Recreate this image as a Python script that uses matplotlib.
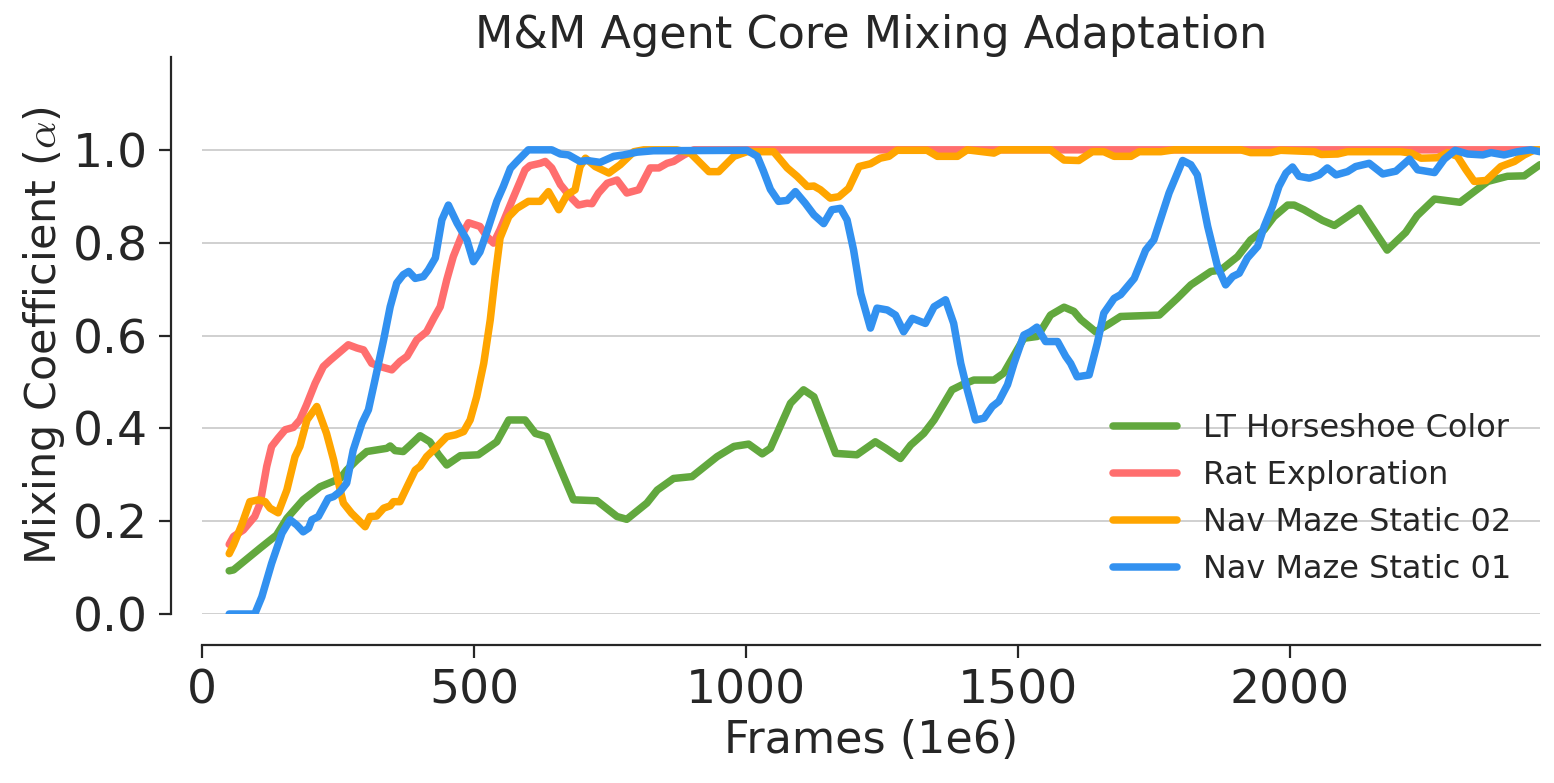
import matplotlib
matplotlib.use('Agg')
import matplotlib.pyplot as plt

plt.rcParams['font.family'] = ['DejaVu Sans']
plt.rcParams['mathtext.fontset'] = 'cm'
plt.rcParams['text.color'] = '#262626'
plt.rcParams['axes.labelcolor'] = '#262626'
plt.rcParams['xtick.color'] = '#262626'
plt.rcParams['ytick.color'] = '#262626'

# ---- data (frames in 1e6, mixing coefficient) ----
green_x = [50, 58, 107, 137, 156, 186, 217, 254, 266, 285, 303, 340, 346, 355, 370, 383, 401, 419, 435, 450,
           475, 508, 542, 564, 594, 613, 634, 683, 726, 763, 781, 818, 837, 867, 901, 947, 978, 1005, 1030, 1045,
           1082, 1106, 1125, 1165, 1204, 1238, 1257, 1284, 1303, 1327, 1346, 1379, 1398, 1419, 1456, 1474, 1511,
           1536, 1560, 1585, 1603, 1616, 1643, 1665, 1689, 1760, 1793, 1818, 1855, 1873, 1904, 1928, 1953, 1971,
           1996, 2008, 2026, 2060, 2082, 2128, 2179, 2213, 2234, 2266, 2313, 2339, 2364, 2400, 2431, 2460]
green_y = [0.093, 0.095, 0.142, 0.170, 0.206, 0.246, 0.274, 0.292, 0.310, 0.332, 0.350, 0.357, 0.362, 0.352,
           0.350, 0.364, 0.384, 0.371, 0.343, 0.321, 0.341, 0.343, 0.371, 0.418, 0.418, 0.389, 0.382, 0.246,
           0.244, 0.210, 0.204, 0.239, 0.267, 0.292, 0.296, 0.339, 0.361, 0.366, 0.345, 0.357, 0.454, 0.483,
           0.468, 0.346, 0.343, 0.371, 0.357, 0.335, 0.364, 0.389, 0.418, 0.483, 0.494, 0.504, 0.504, 0.519,
           0.594, 0.598, 0.644, 0.661, 0.652, 0.634, 0.608, 0.623, 0.641, 0.644, 0.680, 0.709, 0.738, 0.741,
           0.770, 0.806, 0.828, 0.856, 0.881, 0.881, 0.871, 0.848, 0.837, 0.874, 0.784, 0.822, 0.858, 0.894,
           0.887, 0.910, 0.932, 0.943, 0.944, 0.968]

red_x = [50, 58, 76, 97, 107, 119, 128, 140, 153, 168, 180, 192, 208, 223, 236, 254, 269, 285, 297, 312,
         331, 349, 364, 377, 395, 413, 426, 438, 450, 462, 478, 490, 511, 524, 536, 548, 573, 594, 603, 622,
         631, 643, 659, 677, 692, 708, 717, 729, 745, 763, 781, 803, 824, 840, 855, 867, 886, 904, 2460]
red_y = [0.150, 0.167, 0.181, 0.210, 0.239, 0.318, 0.361, 0.379, 0.397, 0.402, 0.418, 0.450, 0.497, 0.533,
         0.547, 0.565, 0.580, 0.573, 0.569, 0.540, 0.532, 0.526, 0.544, 0.555, 0.591, 0.608, 0.637, 0.662,
         0.720, 0.770, 0.817, 0.843, 0.835, 0.813, 0.799, 0.828, 0.899, 0.957, 0.966, 0.971, 0.975, 0.961,
         0.925, 0.899, 0.881, 0.885, 0.884, 0.907, 0.928, 0.935, 0.907, 0.914, 0.961, 0.961, 0.971, 0.975,
         0.989, 1.0, 1.0]

orange_x = [50, 58, 73, 88, 104, 116, 125, 140, 156, 171, 180, 193, 211, 229, 242, 254, 260, 275, 300, 309,
            321, 334, 346, 352, 364, 377, 392, 401, 413, 429, 450, 466, 481, 493, 505, 518, 530, 539, 548, 564,
            579, 600, 622, 637, 656, 671, 686, 695, 705, 723, 748, 769, 794, 812, 873, 898, 932, 950, 978, 1002,
            1051, 1076, 1094, 1113, 1125, 1137, 1155, 1171, 1189, 1208, 1229, 1247, 1263, 1278, 1333, 1352,
            1389, 1407, 1456, 1468, 1560, 1585, 1612, 1637, 1658, 1677, 1708, 1723, 1763, 1787, 1910, 1928,
            1965, 1983, 2045, 2058, 2088, 2106, 2204, 2223, 2241, 2272, 2290, 2308, 2324, 2339, 2361, 2388,
            2413, 2431, 2450, 2460]
orange_y = [0.130, 0.149, 0.192, 0.242, 0.246, 0.242, 0.228, 0.218, 0.267, 0.339, 0.361, 0.418, 0.447,
            0.389, 0.332, 0.267, 0.239, 0.217, 0.188, 0.210, 0.211, 0.228, 0.233, 0.242, 0.242, 0.274, 0.310,
            0.318, 0.339, 0.357, 0.382, 0.386, 0.393, 0.418, 0.468, 0.540, 0.634, 0.727, 0.810, 0.856, 0.874,
            0.889, 0.889, 0.910, 0.871, 0.903, 0.914, 0.964, 0.982, 0.964, 0.950, 0.968, 0.996, 1.0, 1.0, 0.993,
            0.953, 0.953, 0.986, 0.996, 0.996, 0.961, 0.943, 0.921, 0.922, 0.914, 0.896, 0.899, 0.917, 0.964,
            0.970, 0.982, 0.986, 0.999, 0.999, 0.986, 0.986, 1.0, 0.993, 1.0, 1.0, 0.978, 0.977, 0.996, 0.996,
            0.986, 0.986, 0.996, 0.996, 1.0, 1.0, 0.994, 0.994, 0.999, 0.996, 0.990, 0.991, 0.996, 0.996,
            0.993, 0.982, 0.983, 0.994, 0.986, 0.957, 0.932, 0.934, 0.964, 0.975, 0.989, 1.0, 1.0]

blue_x = [50, 97, 110, 128, 147, 162, 174, 186, 196, 202, 214, 232, 242, 254, 266, 278, 294, 306, 318, 334,
          346, 358, 370, 380, 392, 407, 416, 429, 441, 453, 469, 487, 499, 511, 524, 542, 554, 567, 579, 600,
          643, 659, 674, 695, 708, 732, 757, 775, 800, 830, 1002, 1021, 1032, 1045, 1060, 1076, 1091, 1109,
          1125, 1143, 1158, 1174, 1186, 1198, 1211, 1229, 1241, 1260, 1275, 1290, 1306, 1330, 1346, 1367,
          1382, 1395, 1407, 1422, 1438, 1453, 1465, 1481, 1493, 1511, 1523, 1535, 1551, 1573, 1588, 1597,
          1609, 1631, 1646, 1658, 1677, 1689, 1714, 1735, 1750, 1778, 1803, 1818, 1830, 1849, 1867, 1882,
          1895, 1907, 1922, 1941, 1953, 1968, 1980, 1993, 2005, 2017, 2036, 2054, 2069, 2085, 2106, 2121,
          2146, 2171, 2195, 2220, 2235, 2266, 2284, 2304, 2327, 2355, 2370, 2394, 2419, 2443, 2460]
blue_y = [0.0, 0.0, 0.037, 0.109, 0.174, 0.203, 0.192, 0.177, 0.185, 0.203, 0.210, 0.249, 0.253, 0.264,
          0.282, 0.353, 0.411, 0.440, 0.504, 0.591, 0.662, 0.713, 0.731, 0.738, 0.723, 0.727, 0.741, 0.767,
          0.849, 0.881, 0.842, 0.806, 0.759, 0.780, 0.824, 0.889, 0.921, 0.960, 0.975, 1.0, 1.0, 0.991, 0.989,
          0.975, 0.977, 0.973, 0.986, 0.989, 0.995, 0.998, 0.999, 0.986, 0.955, 0.915, 0.889, 0.891, 0.910,
          0.885, 0.860, 0.841, 0.871, 0.874, 0.849, 0.784, 0.691, 0.616, 0.659, 0.655, 0.644, 0.608, 0.637,
          0.626, 0.662, 0.677, 0.626, 0.540, 0.483, 0.418, 0.422, 0.447, 0.458, 0.494, 0.540, 0.601, 0.608,
          0.618, 0.587, 0.587, 0.555, 0.540, 0.511, 0.515, 0.583, 0.648, 0.680, 0.688, 0.723, 0.784, 0.806,
          0.907, 0.977, 0.968, 0.946, 0.835, 0.749, 0.709, 0.727, 0.734, 0.767, 0.792, 0.835, 0.878, 0.921,
          0.950, 0.963, 0.943, 0.939, 0.946, 0.961, 0.946, 0.953, 0.964, 0.971, 0.948, 0.954, 0.980, 0.957,
          0.951, 0.980, 0.999, 0.991, 0.989, 0.994, 0.989, 0.996, 1.0, 0.996]

labels = ['LT Horseshoe Color', 'Rat Exploration', 'Nav Maze Static 02', 'Nav Maze Static 01']
colors = ['#62a83e', '#ff6e6e', '#ffa500', '#3291f0']
xticks = [0, 500, 1000, 1500, 2000]
yticks = [0.0, 0.2, 0.4, 0.6, 0.8, 1.0]

fig = plt.figure(figsize=(15.54, 7.83), dpi=100)
ax = fig.add_axes([202/1554, 1 - 614/783, (1540 - 202)/1554, (614 - 57)/783])

series = [(green_x, green_y), (red_x, red_y), (orange_x, orange_y), (blue_x, blue_y)]
for (xs, ys), lab, col in zip(series, labels, colors):
    ax.plot(xs, ys, color=col, lw=5.4, label=lab, solid_capstyle='round', solid_joinstyle='round')

ax.set_xlim(0, 2460)
ax.set_ylim(0, 1.2)
ax.set_xticks(xticks)
ax.set_yticks(yticks)
ax.set_yticklabels(['%.1f' % v for v in yticks])
ax.yaxis.grid(True, color='#d0d0d0', lw=1.4)
ax.set_axisbelow(True)

for s in ['top', 'right']:
    ax.spines[s].set_visible(False)
for s in ['left', 'bottom']:
    ax.spines[s].set_position(('outward', 22))
    ax.spines[s].set_color('#262626')
    ax.spines[s].set_linewidth(1.6)
ax.tick_params(axis='both', length=9, width=1.6, pad=8, labelsize=34, direction='out')

ax.set_title('M&M Agent Core Mixing Adaptation', fontsize=32)
ax.set_xlabel('Frames (1e6)', fontsize=32)
ax.set_ylabel(r'Mixing Coefficient ($\alpha$)', fontsize=31)

ax.legend(loc='lower right', frameon=False, fontsize=23)

fig.savefig('out.png', dpi=100)
